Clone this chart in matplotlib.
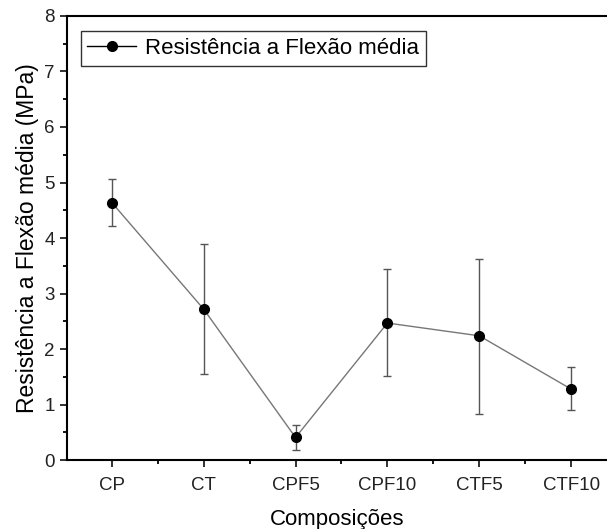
import numpy as np
import matplotlib.pyplot as plt
from matplotlib.ticker import MultipleLocator

plt.rcParams['font.family'] = ['Liberation Sans', 'DejaVu Sans']

composicoes = ['CP', 'CT', 'CPF5', 'CPF10', 'CTF5', 'CTF10']
media = [4.64, 2.72, 0.41, 2.47, 2.24, 1.28]
err_sup = [5.07, 3.90, 0.64, 3.44, 3.63, 1.68]
err_inf = [4.22, 1.56, 0.18, 1.51, 0.84, 0.90]

media = np.array(media)
yerr = [media - np.array(err_inf), np.array(err_sup) - media]
x = np.arange(len(composicoes))

fig = plt.figure(figsize=(6.07, 5.29), dpi=100)
ax = fig.add_axes([0.110, 0.130, 0.890, 0.840])

ax.errorbar(x, media, yerr=yerr, fmt='none', ecolor='#555555', elinewidth=1.0,
            capsize=3, capthick=1.0, zorder=2)
ax.plot(x, media, '-', color='#777777', lw=1.0, zorder=3)
ax.plot(x, media, 'o', color='black', ms=7, zorder=4)
# legend handle with line through marker
h, = ax.plot([], [], '-o', color='black', ms=7, lw=1.0)

ax.set_xlim(-0.49, 5.39)
ax.set_ylim(0, 8)
ax.set_xticks(x)
ax.set_xticklabels(composicoes)
ax.xaxis.set_minor_locator(MultipleLocator(0.5))
ax.yaxis.set_major_locator(MultipleLocator(1))
ax.yaxis.set_minor_locator(MultipleLocator(0.5))
ax.tick_params(which='major', direction='out', length=5, width=1.3, labelsize=13.5, colors='#222222')
ax.tick_params(which='minor', direction='out', length=3, width=1.3)
ax.tick_params(axis='x', pad=7)
for s in ['left', 'bottom', 'top']:
    ax.spines[s].set_linewidth(1.5)
ax.spines['right'].set_visible(False)

ax.set_xlabel('Composições', fontsize=16, labelpad=11)
ax.set_ylabel('Resistência a Flexão média (MPa)', fontsize=16.5, labelpad=4)

leg = ax.legend([h], ['Resistência a Flexão média'], loc='upper left', fontsize=16,
                frameon=True, fancybox=False, edgecolor='black', borderpad=0.3,
                handlelength=2.2, handletextpad=0.4, bbox_to_anchor=(0.005, 0.99))
leg.get_frame().set_linewidth(1.0)

plt.savefig('out.png', dpi=100)
